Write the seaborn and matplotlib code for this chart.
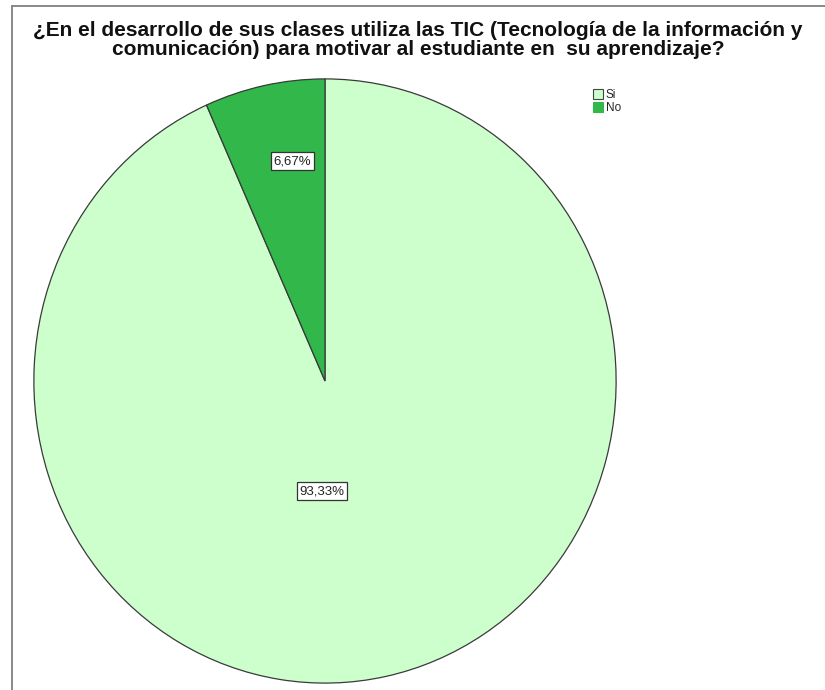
import matplotlib
matplotlib.use("Agg")
import matplotlib.pyplot as plt
import seaborn as sns
from matplotlib.lines import Line2D
from matplotlib.patches import Patch

categories = ["Si", "No"]
values = [93.33, 6.67]
pct_labels = ["93,33%", "6,67%"]
colors = ["#ccffcc", "#32b74b"]
title = ("¿En el desarrollo de sus clases utiliza las TIC (Tecnología de la información y\n"
         "comunicación) para motivar al estudiante en  su aprendizaje?")

sns.set_theme(style="white")
plt.rcParams['font.family'] = ['Liberation Sans', 'DejaVu Sans']

W, H = 825, 690
fig = plt.figure(figsize=(W / 100, H / 100), dpi=100)
fig.patch.set_facecolor("white")

# pie axes placed in pixel box
x0, x1, y0, y1 = 33, 617, 78, 684
ax = fig.add_axes([x0 / W, 1 - y1 / H, (x1 - x0) / W, (y1 - y0) / H])
wedges, _ = ax.pie(values, colors=colors, startangle=90, counterclock=False,
                   wedgeprops=dict(edgecolor="#3a3a3a", linewidth=0.9))
ax.set_xlim(-1.003, 1.003)
ax.set_ylim(-1.003, 1.003)
ax.set_aspect("auto")
ax.axis("off")

# percentage labels
label_pos = [(-0.01, -0.365), (-0.112, 0.727)]
for (lx, ly), txt in zip(label_pos, pct_labels):
    ax.text(lx, ly, txt, ha="center", va="center", fontsize=9.5, color="#222222",
            bbox=dict(boxstyle="square,pad=0.22", facecolor="white", edgecolor="#333333", linewidth=0.9))

# title
fig.text(418 / W, 1 - 40 / H, title, ha="center", va="center", fontsize=15.0,
         fontweight="bold", color="#111111", linespacing=1.02)

# legend
handles = [Patch(facecolor=colors[0], edgecolor="#444444", linewidth=0.8),
           Patch(facecolor=colors[1], edgecolor=colors[1], linewidth=0.8)]
leg = fig.legend(handles, categories, loc="upper left", bbox_to_anchor=(593 / W, 1 - 89 / H),
                 frameon=False, fontsize=8.5, handlelength=0.85, handleheight=0.85,
                 handletextpad=0.25, labelspacing=0.08, borderpad=0, borderaxespad=0)

# outer frame
fig.add_artist(Line2D([12 / W, 1.0], [1 - 6 / H, 1 - 6 / H], color="#808080", linewidth=1.3))
fig.add_artist(Line2D([12 / W, 12 / W], [1 - 6 / H, 0.0], color="#808080", linewidth=1.3))

fig.savefig("out.png", dpi=100, facecolor="white")
